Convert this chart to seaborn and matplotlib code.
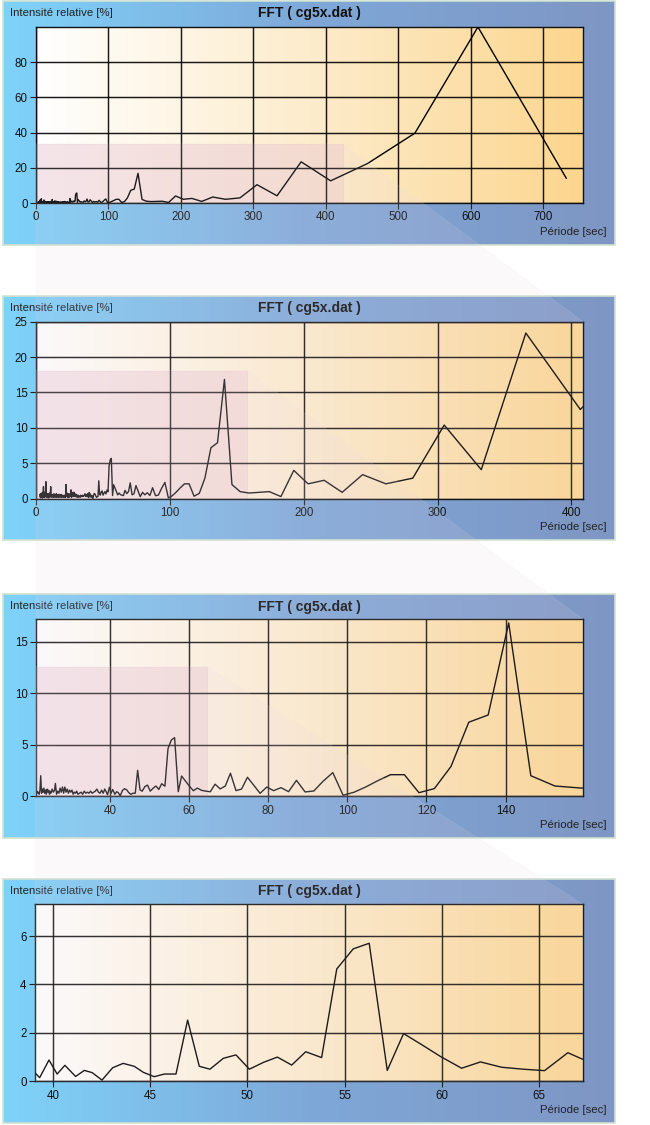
import numpy as np
import pandas as pd
import matplotlib
matplotlib.use("Agg")
import matplotlib.pyplot as plt
import seaborn as sns
from matplotlib.patches import Rectangle, Polygon
from matplotlib.colors import LinearSegmentedColormap

sns.set_theme(style="white")
plt.rcParams['font.family'] = ['Liberation Sans', 'DejaVu Sans']

# ---------------- data ----------------
noise_short_period = [3.0, 3.2, 3.4, 3.6, 3.8, 4.0, 4.2, 4.4, 4.6, 4.8, 5.0, 5.2, 5.4, 5.6, 5.8,
                      6.0, 6.2, 6.4, 6.6, 6.8, 7.0, 7.2, 7.4, 7.6, 7.8, 8.0, 8.3, 8.6, 8.9, 9.2,
                      9.5, 9.8, 10.1, 10.4, 10.7, 11.0, 11.3, 11.6, 11.9, 12.2, 12.5, 12.8, 13.1,
                      13.4, 13.7, 14.0, 14.3, 14.6, 14.9, 15.2, 15.5, 15.8, 16.1, 16.4, 16.7, 17.0,
                      17.3, 17.6, 17.9, 18.2, 18.5, 18.8, 19.1, 19.4, 19.7, 20.0, 20.3, 20.6, 20.9]
noise_short_value = [0.6, 0.2, 0.7, 0.1, 0.5, 0.3, 0.8, 0.2, 0.6, 0.1, 0.9, 0.3, 1.0, 1.7, 0.2,
                     0.7, 0.3, 0.9, 0.2, 0.6, 0.4, 1.2, 2.4, 0.3, 0.8, 0.2, 0.6, 0.3, 0.7, 0.1,
                     0.5, 0.3, 0.8, 0.2, 0.6, 1.7, 0.3, 0.5, 0.2, 0.6, 0.3, 0.5, 0.2,
                     0.7, 0.3, 0.6, 0.2, 0.5, 0.3, 0.7, 0.2, 0.4, 0.3, 0.6, 0.2, 0.5,
                     0.3, 0.6, 0.2, 0.5, 0.3, 0.6, 0.2, 0.4, 0.3, 0.5, 0.2, 0.4, 0.3]

noise_mid_period = [21.2, 21.4, 21.6, 21.8, 22.0, 22.2, 22.4, 22.6, 22.8, 23.0, 23.2, 23.4, 23.6,
                    23.8, 24.0, 24.2, 24.4, 24.6, 24.8, 25.0, 25.3, 25.6, 25.9, 26.1, 26.4, 26.7,
                    27.0, 27.3, 27.6, 27.9, 28.2, 28.5, 28.8, 29.1, 29.4, 29.7, 30.0, 30.3, 30.6,
                    30.9, 31.2, 31.5, 31.8, 32.2, 32.6, 33.0, 33.4, 33.8, 34.2, 34.6, 35.0, 35.4,
                    35.8, 36.2, 36.6, 37.0, 37.4, 37.8, 38.2, 38.6]
noise_mid_value = [0.2, 0.5, 0.3, 0.4, 0.2, 0.6, 2.0, 0.3, 0.7, 0.4, 0.8, 0.3, 0.6,
                   0.2, 0.7, 0.4, 0.6, 0.2, 0.5, 0.3, 0.7, 0.4, 0.6, 1.25, 0.2, 0.5,
                   0.3, 0.8, 0.4, 0.9, 0.3, 0.9, 0.4, 0.7, 0.3, 0.6, 0.4, 0.6, 0.2,
                   0.4, 0.3, 0.5, 0.2, 0.3, 0.4, 0.2, 0.5, 0.3, 0.4, 0.3, 0.5, 0.3,
                   0.4, 0.5, 0.7, 0.4, 0.3, 0.6, 0.3, 0.7]

peak_period = [39.0, 39.3, 39.78, 40.2, 40.6, 41.15, 41.6, 42.0, 42.51, 43.06, 43.6, 44.17,
               44.64, 45.2, 45.72, 46.32, 46.92, 47.52, 48.07, 48.76, 49.41, 50.1, 50.82,
               51.54, 52.28, 53.0, 53.82, 54.6, 55.45, 56.27, 57.2, 58.04, 59.0, 59.95,
               61.03, 62.0, 63.09, 64.2, 65.3, 66.5, 67.8, 69.1, 70.4, 71.8, 73.2, 74.7,
               76.25, 77.9, 79.6, 81.3, 83.2, 85.1, 87.1, 89.3, 91.5, 93.8, 96.3, 98.9,
               101.7, 104.6, 107.6, 110.9, 114.4, 118.1, 122.0, 126.2, 130.7, 135.6, 140.8,
               146.4, 152.5, 159.1, 166.4, 174.3, 183.0, 192.6, 203.3, 215.3, 228.75, 244.0,
               261.4, 281.5, 305.0, 332.7, 366.0, 406.7, 457.5, 523.0, 610.0, 732.0]
peak_value = [0.40, 0.15, 0.88, 0.30, 0.66, 0.20, 0.45, 0.36, 0.05, 0.56, 0.74, 0.62,
              0.37, 0.19, 0.30, 0.30, 2.53, 0.62, 0.50, 0.95, 1.09, 0.50, 0.78,
              1.00, 0.67, 1.22, 0.98, 4.64, 5.47, 5.70, 0.45, 1.97, 1.50, 1.02,
              0.54, 0.80, 0.58, 0.50, 0.44, 1.18, 0.72, 1.00, 2.24, 0.55, 0.70, 1.85,
              1.10, 0.29, 0.90, 0.55, 0.84, 0.45, 1.55, 0.42, 0.52, 1.45, 2.30, 0.10,
              0.40, 0.90, 1.50, 2.10, 2.10, 0.35, 0.75, 2.90, 7.20, 7.90, 16.85,
              2.00, 1.00, 0.80, 0.90, 1.00, 0.30, 4.00, 2.10, 2.60, 0.90, 3.40,
              2.10, 2.90, 10.40, 4.10, 23.40, 12.60, 22.40, 39.70, 100.0, 14.0]

title_text = "FFT ( cg5x.dat )"
ylabel_text = "Intensité relative [%]"
xlabel_text = "Période [sec]"

x_limits = [(0, 755), (0, 408.7), (21.2, 159.6), (39.06, 67.28)]
y_limits = [(0, 100), (0, 25), (0, 17.2), (0, 7.31)]
x_ticks = [[0, 100, 200, 300, 400, 500, 600, 700],
           [0, 100, 200, 300, 400],
           [40, 60, 80, 100, 120, 140],
           [40, 45, 50, 55, 60, 65]]
y_ticks = [[0, 20, 40, 60, 80],
           [0, 5, 10, 15, 20, 25],
           [0, 5, 10, 15],
           [0, 2, 4, 6]]
zoom_x_end = [423.6, 157.8, 64.4]
zoom_y_top = [33.6, 18.1, 12.6]

df = pd.DataFrame({
    "period": noise_short_period + noise_mid_period + peak_period,
    "intensity": noise_short_value + noise_mid_value + peak_value,
})

# ---------------- layout ----------------
W, H = 650, 1125
fig = plt.figure(figsize=(W / 100, H / 100), dpi=100)
fig.patch.set_facecolor("white")

boxes = [(3, 1, 615, 245), (3, 296, 615, 540), (3, 594, 615, 838), (3, 879, 615, 1123)]
axes_px = [(36, 27, 583, 203), (36, 321.7, 583, 498.7), (36, 619.3, 583, 796.3), (35, 904.3, 583, 1081.3)]


def frac(l, t, r, b):
    return [l / W, 1 - b / H, (r - l) / W, (b - t) / H]


box_cmap = LinearSegmentedColormap.from_list("box", ["#7fd3fa", "#7ea8d8", "#7f96c3"])
plot_cmap = LinearSegmentedColormap.from_list("plot", ["#ffffff", "#fdeccc", "#fcd68f"])
grad = np.linspace(0, 1, 256).reshape(1, -1)

axes = []
for i in range(4):
    l, t, r, b = boxes[i]
    bax = fig.add_axes(frac(l, t, r, b))
    bax.imshow(grad, aspect="auto", extent=[0, 1, 0, 1], cmap=box_cmap)
    bax.set_xlim(0, 1)
    bax.set_ylim(0, 1)
    bax.set_axis_off()
    bax.add_patch(Rectangle((0, 0), 1, 1, transform=bax.transAxes, fill=False,
                            edgecolor="#cfe2d2", lw=1.2, clip_on=False))

    cx = (l + r) / 2
    fig.text(cx / W, 1 - (t + 12.5) / H, title_text, ha="center", va="center",
             fontsize=10, fontweight="bold", color="#111111")
    fig.text(10 / W, 1 - (t + 12) / H, ylabel_text, ha="left", va="center",
             fontsize=8.2, color="#222222")
    fig.text(607 / W, 1 - (t + 231) / H, xlabel_text, ha="right", va="center",
             fontsize=8.2, color="#222222")

    ax = fig.add_axes(frac(*axes_px[i]))
    x0, x1 = x_limits[i]
    y0, y1 = y_limits[i]
    ax.imshow(grad, aspect="auto", extent=[x0, x1, y0, y1], cmap=plot_cmap, zorder=0)
    sub = df[(df["period"] >= x0 - 40) & (df["period"] <= x1 + 150)]
    sns.lineplot(data=sub, x="period", y="intensity", ax=ax, color="black",
                 lw=1.0, estimator=None, zorder=3)
    ax.set_xlim(x0, x1)
    ax.set_ylim(y0, y1)
    ax.set_xticks(x_ticks[i])
    ax.set_yticks(y_ticks[i])
    ax.set_xlabel("")
    ax.set_ylabel("")
    ax.set_axisbelow(True)
    ax.grid(True, color="#000000", lw=1.05, alpha=0.9)
    ax.tick_params(axis="both", labelsize=8.3, length=4, width=0.8, direction="out",
                   color="#222222", labelcolor="#111111", pad=2, left=True, bottom=True)
    for s in ax.spines.values():
        s.set_color("#111111")
        s.set_linewidth(1.0)
        s.set_visible(True)
    axes.append(ax)

# zoom rectangles and connectors
fig.canvas.draw()
inv = fig.transFigure.inverted()
for i in range(3):
    ax = axes[i]
    nx = axes[i + 1]
    x0 = x_limits[i][0]
    ax.add_patch(Rectangle((x0, 0), zoom_x_end[i] - x0, zoom_y_top[i],
                           facecolor="#ecc6d0", edgecolor="#e6c0c8", lw=0.6,
                           alpha=0.42, zorder=0.3))
    p_tl = inv.transform(ax.transData.transform((x0, zoom_y_top[i])))
    p_tr = inv.transform(ax.transData.transform((zoom_x_end[i], zoom_y_top[i])))
    n_tr = inv.transform(nx.transAxes.transform((1, 1)))
    n_br = inv.transform(nx.transAxes.transform((1, 0)))
    n_bl = inv.transform(nx.transAxes.transform((0, 0)))
    poly = Polygon([p_tl, p_tr, n_tr, n_br, n_bl], closed=True,
                   transform=fig.transFigure, facecolor="#ecd6e6",
                   edgecolor="#f2e4ee", lw=0.6, alpha=0.13, zorder=10)
    fig.add_artist(poly)

fig.savefig("out.png", dpi=100, facecolor="white")
